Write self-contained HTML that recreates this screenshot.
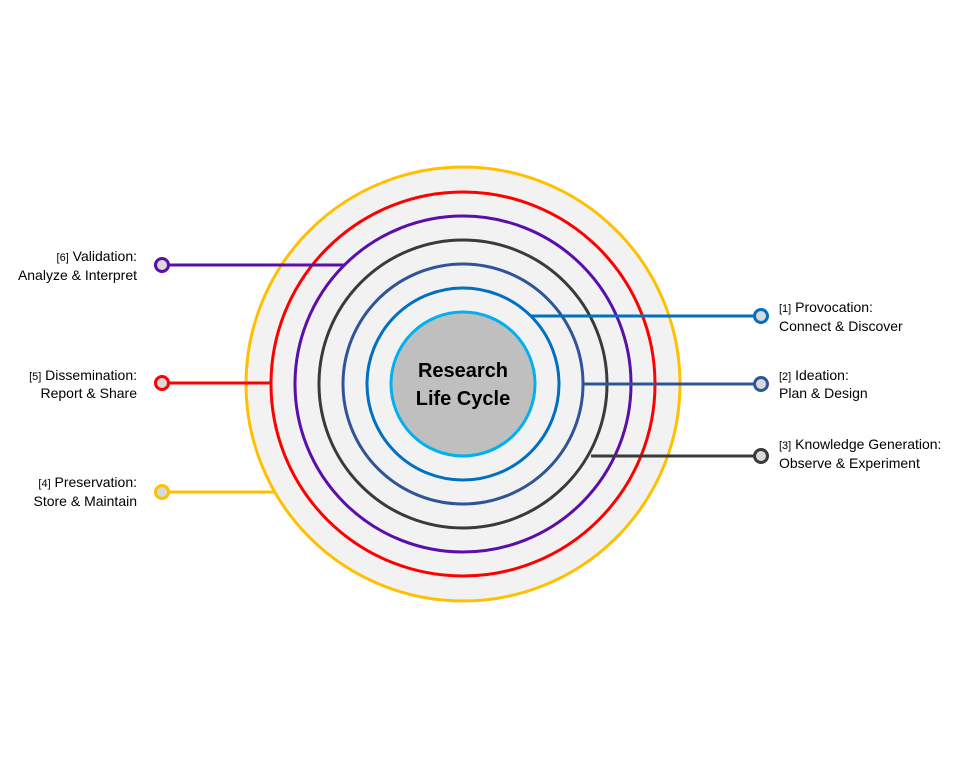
<!DOCTYPE html>
<html><head><meta charset="utf-8"><style>
body{margin:0;background:#fff;}
svg text{font-family:"Liberation Sans",sans-serif;}
</style></head><body>
<svg width="960" height="768" viewBox="0 0 960 768" xmlns="http://www.w3.org/2000/svg">
<rect width="960" height="768" fill="#fff"/>
<circle cx="463" cy="384" r="217" fill="#f2f2f2" stroke="#ffc000" stroke-width="3"/>
<circle cx="463" cy="384" r="192" fill="none" stroke="#ff0000" stroke-width="3"/>
<circle cx="463" cy="384" r="168" fill="none" stroke="#5b0ea8" stroke-width="3"/>
<circle cx="463" cy="384" r="144" fill="none" stroke="#3a3a3a" stroke-width="3"/>
<circle cx="463" cy="384" r="120" fill="none" stroke="#2f5597" stroke-width="3"/>
<circle cx="463" cy="384" r="96" fill="none" stroke="#0070c0" stroke-width="3"/>
<circle cx="463" cy="384" r="72" fill="#bfbfbf" stroke="#00b0f0" stroke-width="3"/>
<text x="463" y="377" text-anchor="middle" font-size="20" font-weight="bold" fill="#000">Research</text>
<text x="463" y="405" text-anchor="middle" font-size="20" font-weight="bold" fill="#000">Life Cycle</text>
<g stroke-width="3">
<line x1="530" y1="316" x2="761" y2="316" stroke="#0070c0"/>
<line x1="584" y1="384" x2="761" y2="384" stroke="#2f5597"/>
<line x1="591" y1="456" x2="761" y2="456" stroke="#3a3a3a"/>
<line x1="162" y1="265" x2="345" y2="265" stroke="#5b0ea8"/>
<line x1="162" y1="383" x2="271" y2="383" stroke="#ff0000"/>
<line x1="162" y1="492" x2="275" y2="492" stroke="#ffc000"/>
<circle cx="761" cy="316" r="6.5" fill="#d9d9d9" stroke="#0070c0"/>
<circle cx="761" cy="384" r="6.5" fill="#d9d9d9" stroke="#2f5597"/>
<circle cx="761" cy="456" r="6.5" fill="#d9d9d9" stroke="#3a3a3a"/>
<circle cx="162" cy="265" r="6.5" fill="#d9d9d9" stroke="#5b0ea8"/>
<circle cx="162" cy="383" r="6.5" fill="#d9d9d9" stroke="#ff0000"/>
<circle cx="162" cy="492" r="6.5" fill="#d9d9d9" stroke="#ffc000"/>
</g>
<g font-size="14" fill="#000">
<text x="779" y="312"><tspan font-size="11">[1]</tspan> Provocation:</text>
<text x="779" y="331">Connect &amp; Discover</text>
<text x="779" y="380"><tspan font-size="11">[2]</tspan> Ideation:</text>
<text x="779" y="398">Plan &amp; Design</text>
<text x="779" y="449"><tspan font-size="11">[3]</tspan> Knowledge Generation:</text>
<text x="779" y="468">Observe &amp; Experiment</text>
<g text-anchor="end">
<text x="137" y="261"><tspan font-size="11">[6]</tspan> Validation:</text>
<text x="137" y="280">Analyze &amp; Interpret</text>
<text x="137" y="380"><tspan font-size="11">[5]</tspan> Dissemination:</text>
<text x="137" y="398">Report &amp; Share</text>
<text x="137" y="487"><tspan font-size="11">[4]</tspan> Preservation:</text>
<text x="137" y="506">Store &amp; Maintain</text>
</g></g>
</svg>
</body></html>
